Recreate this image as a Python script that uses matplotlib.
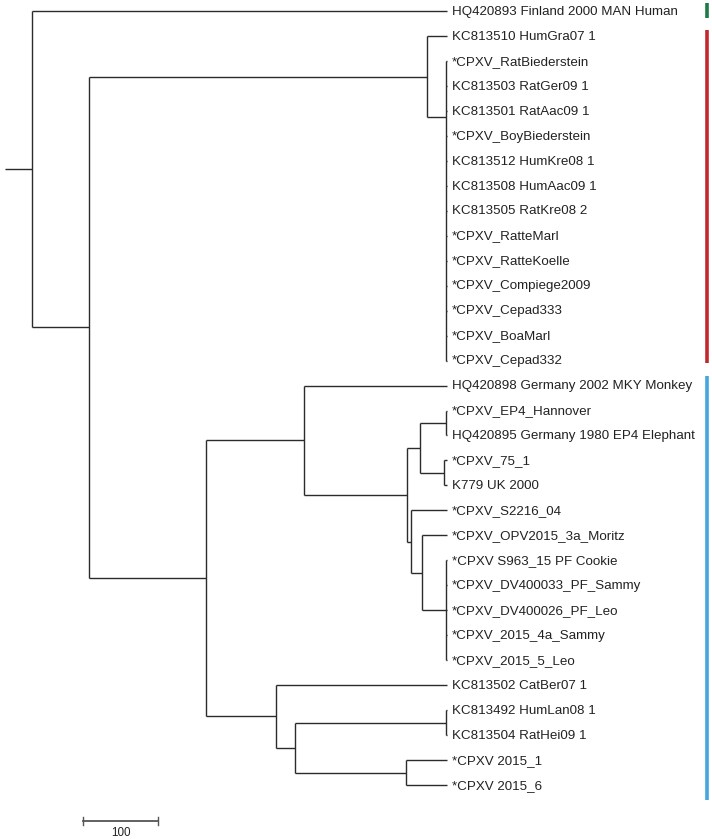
import matplotlib
matplotlib.use("Agg")
import matplotlib.pyplot as plt

# ── Leaves, top to bottom ─────────────────────────────────────────────────────
LEAF_LABELS = [
    "HQ420893 Finland 2000 MAN Human",
    "KC813510 HumGra07 1",
    "*CPXV_RatBiederstein",
    "KC813503 RatGer09 1",
    "KC813501 RatAac09 1",
    "*CPXV_BoyBiederstein",
    "KC813512 HumKre08 1",
    "KC813508 HumAac09 1",
    "KC813505 RatKre08 2",
    "*CPXV_RatteMarl",
    "*CPXV_RatteKoelle",
    "*CPXV_Compiege2009",
    "*CPXV_Cepad333",
    "*CPXV_BoaMarl",
    "*CPXV_Cepad332",
    "HQ420898 Germany 2002 MKY Monkey",
    "*CPXV_EP4_Hannover",
    "HQ420895 Germany 1980 EP4 Elephant",
    "*CPXV_75_1",
    "K779 UK 2000",
    "*CPXV_S2216_04",
    "*CPXV_OPV2015_3a_Moritz",
    "*CPXV S963_15 PF Cookie",
    "*CPXV_DV400033_PF_Sammy",
    "*CPXV_DV400026_PF_Leo",
    "*CPXV_2015_4a_Sammy",
    "*CPXV_2015_5_Leo",
    "KC813502 CatBer07 1",
    "KC813492 HumLan08 1",
    "KC813504 RatHei09 1",
    "*CPXV 2015_1",
    "*CPXV 2015_6",
]
LEAF_PARENT = (["root", "red"] + ["redpoly"] * 13 + ["bup", "nEP4", "nEP4", "n75", "n75",
               "nC", "nD"] + ["npoly2"] * 5 + ["blow", "nHum", "nHum", "n2015", "n2015"])
LEAF_DEPTH = 554

# ── Internal nodes (depth in branch-length units from the root) ───────────────
NODE_NAMES  = ["root", "n2", "red", "redpoly", "blue", "bup", "nA", "nB", "nEP4",
               "n75", "nC", "nD", "npoly2", "blow", "n295", "nHum", "n2015"]
NODE_DEPTH  = [0, 76, 527, 553, 233, 363, 501, 518, 553,
               550, 506, 521, 553, 326, 351, 553, 499]
NODE_PARENT = [None, "root", "n2", "red", "n2", "blue", "bup", "nA", "nB",
               "nB", "nA", "nC", "nD", "blue", "blow", "n295", "n295"]
NODE_Y_FIXED = {"redpoly": 4.25}   # join point
ROOT_STUB = -35

# ── Clade colour bars (leaf-index units) ──────────────────────────────────────
BAR_TOP    = [-0.32, 0.76, 14.6]
BAR_BOTTOM = [0.28, 14.1, 31.6]
BAR_COLORS = ["#1e7b45", "#c1272d", "#44a6dc"]
BAR_X = 900

SCALE_LEN = 100
SCALE_X0 = 69
SCALE_Y = 32.44

# ── Build tree ────────────────────────────────────────────────────────────────
depth = dict(zip(NODE_NAMES, NODE_DEPTH))
children = {n: [] for n in NODE_NAMES}
for n, p in zip(NODE_NAMES, NODE_PARENT):
    if p is not None:
        children[p].append(("node", n))
for i, p in enumerate(LEAF_PARENT):
    children[p].append(("leaf", i))

ypos = {}


def node_y(n):
    if n in ypos:
        return ypos[n]
    ys = [child_y(c) for c in children[n]]
    ypos[n] = NODE_Y_FIXED.get(n, (min(ys) + max(ys)) / 2)
    return ypos[n]


def child_y(c):
    kind, key = c
    return float(key) if kind == "leaf" else node_y(key)


def child_x(c):
    kind, key = c
    return LEAF_DEPTH if kind == "leaf" else depth[key]


fig = plt.figure(figsize=(7.12, 8.39), dpi=100)
ax = fig.add_axes([0, 0, 1, 1])
line_kw = dict(color="#2b2b2b", lw=1.0, solid_capstyle="butt")

for n in NODE_NAMES:
    x = depth[n]
    ys = [child_y(c) for c in children[n]]
    ax.plot([x, x], [min(ys), max(ys)], **line_kw)
    for c in children[n]:
        ax.plot([x, child_x(c)], [child_y(c), child_y(c)], **line_kw)

ax.plot([ROOT_STUB, 0], [node_y("root")] * 2, **line_kw)

for i, lab in enumerate(LEAF_LABELS):
    ax.text(LEAF_DEPTH + 6, i + 0.03, lab, ha="left", va="center",
            fontsize=9.6, family="Liberation Sans", color="#222222")

for top, bot, col in zip(BAR_TOP, BAR_BOTTOM, BAR_COLORS):
    ax.plot([BAR_X, BAR_X], [top, bot], color=col, lw=2.6, solid_capstyle="butt")

# scale bar
ax.plot([SCALE_X0, SCALE_X0 + SCALE_LEN], [SCALE_Y, SCALE_Y], color="#555555", lw=1.3)
for xe in (SCALE_X0, SCALE_X0 + SCALE_LEN):
    ax.plot([xe, xe], [SCALE_Y - 0.15, SCALE_Y + 0.15], color="#555555", lw=1.0)
ax.text(SCALE_X0 + SCALE_LEN / 2, SCALE_Y + 0.47, str(SCALE_LEN), ha="center",
        va="center", fontsize=8.4, family="Liberation Sans", color="#222222")

ax.set_xlim(-42, 907.3)
ax.set_ylim(33.16, -0.44)
ax.axis("off")

fig.savefig("out.png", dpi=100)
